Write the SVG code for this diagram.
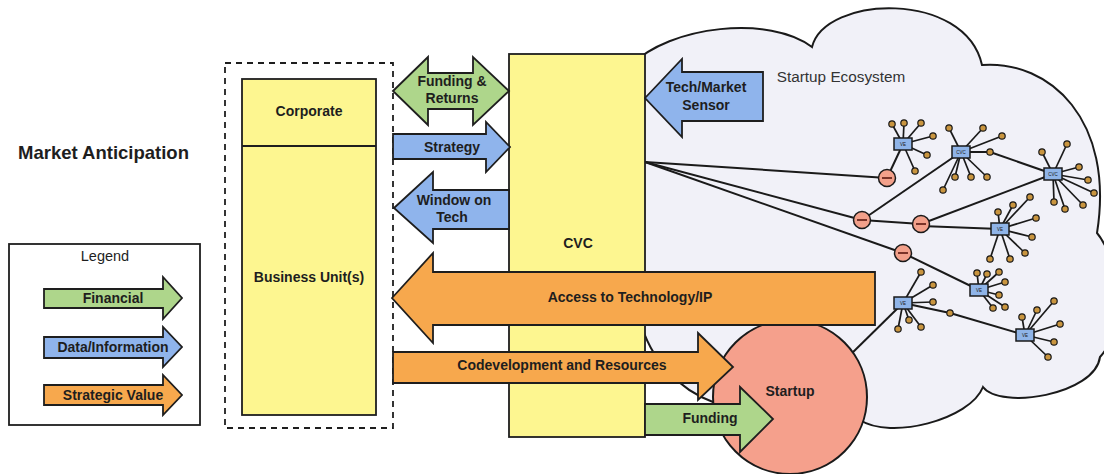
<svg xmlns="http://www.w3.org/2000/svg" width="1104" height="474" viewBox="0 0 1104 474">
<defs>
<style>
.t{font-family:"Liberation Sans",Arial,sans-serif;font-weight:bold;font-size:14px;fill:#1e1e1e;text-anchor:middle}
.arr{stroke:#1e1e1e;stroke-width:1.8;stroke-linejoin:miter}
.g{fill:#aed68b}.b{fill:#8fb4ec}.o{fill:#f7a84d}
.y{fill:#fdf690;stroke:#1e1e1e;stroke-width:1.8}
.ln{stroke:#1a1a1a;stroke-width:2;fill:none}
.sp{stroke:#1a1a1a;stroke-width:1.7}
.dot{fill:#c9953f;stroke:#1a1a1a;stroke-width:1.2}
.hub{fill:#8fb4e8;stroke:#1a1a1a;stroke-width:1.5}
.hl{font-family:"Liberation Sans",Arial,sans-serif;font-size:4.5px;fill:#1a1a1a;text-anchor:middle}
.rc{fill:#f2a08a;stroke:#1a1a1a;stroke-width:1.5}
.rl{stroke:#7a3328;stroke-width:2}
</style>
</defs>
<rect width="1104" height="474" fill="#ffffff"/>

<g id="ecosystem-cloud">
<path d="M 630,66 C 670,25 770,15 812,47 C 825,-5 965,-10 982,65 C 1050,60 1115,120 1097,233 C 1120,260 1125,330 1100,357 C 1095,395 1000,410 983,387 C 970,420 890,440 860,420 L 713,402 C 680,390 650,360 640,320 L 630,320 Z" fill="#f1f1f8" stroke="#1a1a1a" stroke-width="2"/>
<text x="841" y="82" style="font-family:'Liberation Sans',Arial,sans-serif;font-size:15.3px;fill:#333;text-anchor:middle">Startup Ecosystem</text>
</g>

<g id="connectors">
<line class="ln" x1="645" y1="162" x2="887" y2="178"/>
<line class="ln" x1="645" y1="162" x2="862" y2="220"/>
<line class="ln" x1="645" y1="162" x2="903" y2="253"/>
<line class="ln" x1="903" y1="253" x2="979" y2="290"/>
<line class="ln" x1="887" y1="178" x2="903" y2="144"/>
<line class="ln" x1="862" y1="220" x2="961" y2="152"/>
<line class="ln" x1="862" y1="220" x2="921" y2="224"/>
<line class="ln" x1="921" y1="224" x2="1053" y2="174"/>
<line class="ln" x1="921" y1="226" x2="1000" y2="229"/>
<line class="ln" x1="961" y1="152" x2="990" y2="152"/>
<line class="ln" x1="990" y1="152" x2="1053" y2="174"/>
<line class="ln" x1="903" y1="303" x2="950" y2="313"/>
<line class="ln" x1="950" y1="313" x2="1025" y2="335"/>
<line class="ln" x1="903" y1="303" x2="845" y2="360"/>
</g>

<g id="hub1">
<g class="sp"><line x1="903" y1="144" x2="892" y2="124"/><line x1="903" y1="144" x2="904" y2="123"/><line x1="903" y1="144" x2="921" y2="123"/><line x1="903" y1="144" x2="933" y2="136"/><line x1="903" y1="144" x2="927" y2="155"/><line x1="903" y1="144" x2="915" y2="171"/></g>
<rect class="hub" x="894" y="138" width="18" height="12"/><text class="hl" x="903" y="145.5">VE</text>
<g class="dot"><circle cx="892" cy="124" r="3.2"/><circle cx="904" cy="123" r="3.2"/><circle cx="921" cy="123" r="3.2"/><circle cx="933" cy="136" r="3.2"/><circle cx="927" cy="155" r="3.2"/><circle cx="915" cy="171" r="3.2"/></g>
</g>

<g id="hub2">
<g class="sp"><line x1="961" y1="152" x2="949" y2="128"/><line x1="961" y1="152" x2="983" y2="128"/><line x1="961" y1="152" x2="1002" y2="136"/><line x1="961" y1="152" x2="943" y2="190"/><line x1="961" y1="152" x2="955" y2="177"/><line x1="961" y1="152" x2="971" y2="177"/><line x1="961" y1="152" x2="987" y2="177"/></g>
<rect class="hub" x="952" y="146" width="18" height="12"/><text class="hl" x="961" y="153.5">CVC</text>
<g class="dot"><circle cx="949" cy="128" r="3.2"/><circle cx="983" cy="128" r="3.2"/><circle cx="1002" cy="136" r="3.2"/><circle cx="943" cy="190" r="3.2"/><circle cx="955" cy="177" r="3.2"/><circle cx="971" cy="177" r="3.2"/><circle cx="987" cy="177" r="3.2"/><circle cx="990" cy="152" r="3.2"/></g>
</g>

<g id="hub3">
<g class="sp"><line x1="1053" y1="174" x2="1042" y2="152"/><line x1="1053" y1="174" x2="1067" y2="144"/><line x1="1053" y1="174" x2="1079" y2="167"/><line x1="1053" y1="174" x2="1088" y2="180"/><line x1="1053" y1="174" x2="1094" y2="193"/><line x1="1053" y1="174" x2="1083" y2="205"/><line x1="1053" y1="174" x2="1065" y2="209"/><line x1="1053" y1="174" x2="1054" y2="202"/></g>
<rect class="hub" x="1044" y="168" width="18" height="12"/><text class="hl" x="1053" y="175.5">CVC</text>
<g class="dot"><circle cx="1042" cy="152" r="3.2"/><circle cx="1067" cy="144" r="3.2"/><circle cx="1079" cy="167" r="3.2"/><circle cx="1088" cy="180" r="3.2"/><circle cx="1094" cy="193" r="3.2"/><circle cx="1083" cy="205" r="3.2"/><circle cx="1065" cy="209" r="3.2"/><circle cx="1054" cy="202" r="3.2"/></g>
</g>

<g id="hub4">
<g class="sp"><line x1="1000" y1="229" x2="998" y2="212"/><line x1="1000" y1="229" x2="1013" y2="205"/><line x1="1000" y1="229" x2="1030" y2="197"/><line x1="1000" y1="229" x2="1036" y2="218"/><line x1="1000" y1="229" x2="1032" y2="237"/><line x1="1000" y1="229" x2="1025" y2="253"/><line x1="1000" y1="229" x2="1010" y2="259"/><line x1="1000" y1="229" x2="990" y2="259"/></g>
<rect class="hub" x="991" y="223" width="18" height="12"/><text class="hl" x="1000" y="230.5">VE</text>
<g class="dot"><circle cx="998" cy="212" r="3.2"/><circle cx="1013" cy="205" r="3.2"/><circle cx="1030" cy="197" r="3.2"/><circle cx="1036" cy="218" r="3.2"/><circle cx="1032" cy="237" r="3.2"/><circle cx="1025" cy="253" r="3.2"/><circle cx="1010" cy="259" r="3.2"/><circle cx="990" cy="259" r="3.2"/></g>
</g>

<g id="hub5">
<g class="sp"><line x1="979" y1="290" x2="977" y2="273"/><line x1="979" y1="290" x2="987" y2="274"/><line x1="979" y1="290" x2="999" y2="272"/><line x1="979" y1="290" x2="1005" y2="282"/><line x1="979" y1="290" x2="999" y2="295"/><line x1="979" y1="290" x2="1005" y2="307"/><line x1="979" y1="290" x2="993" y2="308"/></g>
<rect class="hub" x="970" y="284" width="18" height="12"/><text class="hl" x="979" y="291.5">VE</text>
<g class="dot"><circle cx="977" cy="273" r="3.2"/><circle cx="987" cy="274" r="3.2"/><circle cx="999" cy="272" r="3.2"/><circle cx="1005" cy="282" r="3.2"/><circle cx="999" cy="295" r="3.2"/><circle cx="1005" cy="307" r="3.2"/><circle cx="993" cy="308" r="3.2"/></g>
</g>

<g id="hub6">
<g class="sp"><line x1="903" y1="303" x2="921" y2="272"/><line x1="903" y1="303" x2="933" y2="285"/><line x1="903" y1="303" x2="933" y2="302"/><line x1="903" y1="303" x2="921" y2="327"/><line x1="903" y1="303" x2="909" y2="320"/><line x1="903" y1="303" x2="898" y2="329"/></g>
<rect class="hub" x="894" y="297" width="18" height="12"/><text class="hl" x="903" y="304.5">VE</text>
<g class="dot"><circle cx="921" cy="272" r="3.2"/><circle cx="933" cy="285" r="3.2"/><circle cx="933" cy="302" r="3.2"/><circle cx="921" cy="327" r="3.2"/><circle cx="909" cy="320" r="3.2"/><circle cx="898" cy="329" r="3.2"/><circle cx="950" cy="313" r="3.2"/></g>
</g>

<g id="hub7">
<g class="sp"><line x1="1025" y1="335" x2="1022" y2="317"/><line x1="1025" y1="335" x2="1037" y2="310"/><line x1="1025" y1="335" x2="1054" y2="301"/><line x1="1025" y1="335" x2="1060" y2="324"/><line x1="1025" y1="335" x2="1054" y2="342"/><line x1="1025" y1="335" x2="1048" y2="357"/></g>
<rect class="hub" x="1016" y="329" width="18" height="12"/><text class="hl" x="1025" y="336.5">VE</text>
<g class="dot"><circle cx="1022" cy="317" r="3.2"/><circle cx="1037" cy="310" r="3.2"/><circle cx="1054" cy="301" r="3.2"/><circle cx="1060" cy="324" r="3.2"/><circle cx="1054" cy="342" r="3.2"/><circle cx="1048" cy="357" r="3.2"/></g>
</g>

<g id="investor-circles">
<circle class="rc" cx="887" cy="178" r="8.5"/><line class="rl" x1="882" y1="178" x2="892" y2="178"/>
<circle class="rc" cx="862" cy="220" r="8.5"/><line class="rl" x1="857" y1="220" x2="867" y2="220"/>
<circle class="rc" cx="921" cy="224" r="8.5"/><line class="rl" x1="916" y1="224" x2="926" y2="224"/>
<circle class="rc" cx="903" cy="253" r="8.5"/><line class="rl" x1="898" y1="253" x2="908" y2="253"/>
</g>

<g id="startup">
<circle cx="790" cy="397" r="77" fill="#f5a08c" stroke="#1a1a1a" stroke-width="2"/>
<text class="t" x="790" y="396">Startup</text>
</g>

<g id="cvc">
<rect class="y" x="509" y="54" width="136" height="383"/>
<text class="t" x="578" y="248">CVC</text>
</g>

<g id="corporate-group">
<rect x="225" y="63" width="168" height="365" fill="none" stroke="#1e1e1e" stroke-width="1.8" stroke-dasharray="6,5"/>
<rect class="y" x="242" y="79" width="134" height="336"/>
<line x1="242" y1="146" x2="376" y2="146" stroke="#1e1e1e" stroke-width="1.8"/>
<text class="t" x="309" y="116">Corporate</text>
<text class="t" x="309" y="282">Business Unit(s)</text>
</g>

<g id="arrow-funding-returns">
<polygon class="arr g" points="393,91 428,57 428,73 473,73 473,57 509,91 473,125 473,109 428,109 428,125"/>
<text class="t" x="452" y="86">Funding &amp;</text>
<text class="t" x="452" y="103">Returns</text>
</g>
<g id="arrow-strategy">
<polygon class="arr b" points="393,134 486,134 486,122 510,147 486,172 486,159 393,159"/>
<text class="t" x="452" y="152">Strategy</text>
</g>
<g id="arrow-window">
<polygon class="arr b" points="394,208 433,172 433,190 509,190 509,229 433,229 433,243"/>
<text class="t" x="454" y="205">Window on</text>
<text class="t" x="452" y="222">Tech</text>
</g>
<g id="arrow-sensor">
<polygon class="arr b" points="645,98 682,59 682,72 763,72 763,121 682,121 682,137"/>
<text class="t" x="706" y="92">Tech/Market</text>
<text class="t" x="706" y="110">Sensor</text>
</g>
<g id="arrow-access">
<polygon class="arr o" points="392,298 433,253 433,272 875,272 875,325 433,325 433,343"/>
<text class="t" x="630" y="302">Access to Technology/IP</text>
</g>
<g id="arrow-codev">
<polygon class="arr o" points="393,352 698,352 698,333 733,367 698,400 698,383 393,383"/>
<text class="t" x="562" y="370">Codevelopment and Resources</text>
</g>
<g id="arrow-funding">
<polygon class="arr g" points="645,404 740,404 740,387 773,419 740,452 740,435 645,435"/>
<text class="t" x="710" y="423">Funding</text>
</g>

<g id="title">
<text x="18" y="159" style="font-family:'Liberation Sans',Arial,sans-serif;font-weight:bold;font-size:18.5px;fill:#1e1e1e">Market Anticipation</text>
</g>

<g id="legend">
<rect x="9" y="244" width="191" height="181" fill="#ffffff" stroke="#1e1e1e" stroke-width="1.8"/>
<text x="105" y="261" style="font-family:'Liberation Sans',Arial,sans-serif;font-size:14.5px;fill:#1e1e1e;text-anchor:middle">Legend</text>
<polygon class="arr g" points="44,289 163,289 163,277 182,298 163,319 163,308 44,308"/>
<text class="t" x="113" y="303">Financial</text>
<polygon class="arr b" points="44,337 163,337 163,327 182,347 163,367 163,358 44,358"/>
<text class="t" x="113" y="352">Data/Information</text>
<polygon class="arr o" points="44,385 163,385 163,375 182,395 163,415 163,405 44,405"/>
<text class="t" x="113" y="400">Strategic Value</text>
</g>
</svg>
